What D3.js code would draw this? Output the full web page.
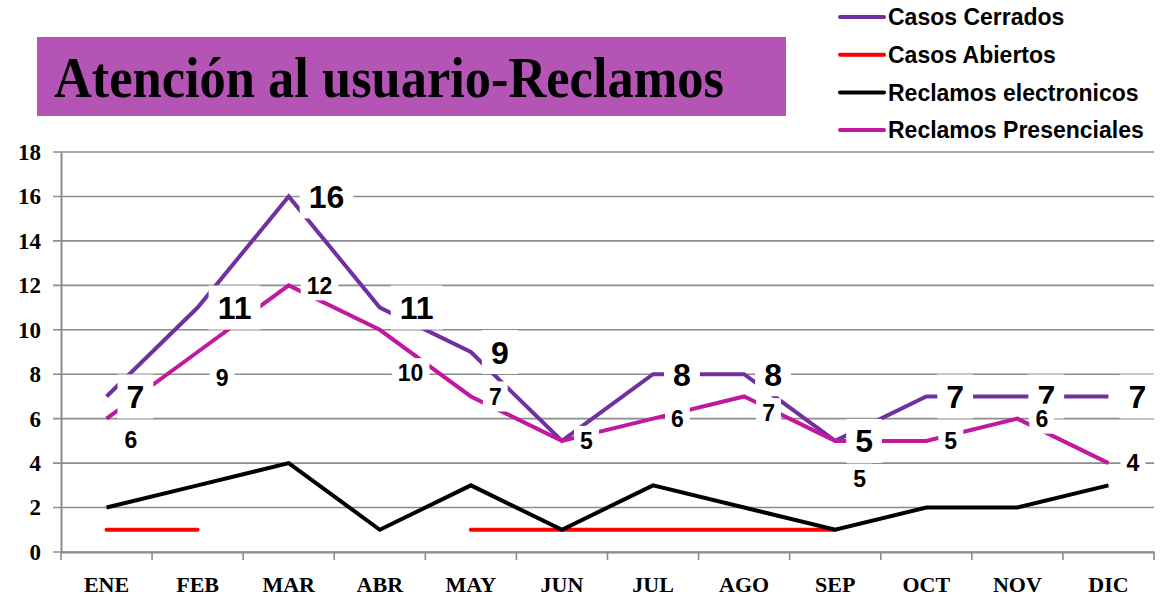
<!DOCTYPE html>
<html><head><meta charset="utf-8">
<script src="https://cdn.jsdelivr.net/npm/d3@7"></script>
<style>html,body{margin:0;padding:0;background:#fff;}svg{display:block;}</style>
</head><body>
<svg id="chart" width="1160" height="598"></svg>
<script>
const months = ["ENE","FEB","MAR","ABR","MAY","JUN","JUL","AGO","SEP","OCT","NOV","DIC"];
const casosCerrados = [7, 11, 16, 11, 9, 5, 8, 8, 5, 7, 7, 7];
const casosAbiertos = [1, 1, null, null, 1, 1, 1, 1, 1, null, null, null];
const reclamosElectronicos = [2, 3, 4, 1, 3, 1, 3, 2, 1, 2, 2, 3];
const reclamosPresenciales = [6, 9, 12, 10, 7, 5, 6, 7, 5, 5, 6, 4];
const yTicks = [0, 2, 4, 6, 8, 10, 12, 14, 16, 18];
const seriesNames = ["Casos Cerrados", "Casos Abiertos", "Reclamos electronicos", "Reclamos Presenciales"];
const titleText = "Atención al usuario-Reclamos";
// which data labels are shown (JUN label of Casos Cerrados is hidden in the original)
const cerradosLabelShown = [true,true,true,true,true,false,true,true,true,true,true,true];

// label nudges (in value units, downward) for Reclamos Presenciales labels
const presLabelShift = [0.95, 1.15, 0, 1.95, 0, 0, 0, 0.75, 1.7, 0, 0, 0];

const colors = ["#7030A0", "#FF0000", "#000000", "#C0189F"];
const svg = d3.select("#chart");

const x = d3.scaleBand().domain(months).range([61, 1154]);
const y = d3.scaleLinear().domain([0, 18]).range([552, 152]);
const cx = m => x(m) + x.bandwidth() / 2;

// title box
svg.append("rect").attr("x", 37).attr("y", 37).attr("width", 749).attr("height", 79).attr("fill", "#B455B6");
svg.append("text").attr("x", 54).attr("y", 97)
  .attr("font-family", "'Liberation Serif','Times New Roman',serif")
  .attr("font-weight", "bold").attr("font-size", 56)
  .attr("textLength", 670).attr("lengthAdjust", "spacingAndGlyphs")
  .attr("fill", "#000").text(titleText);

// gridlines
const grid = svg.append("g");
grid.selectAll("line").data(yTicks).join("line")
  .attr("x1", 53).attr("x2", 1154)
  .attr("y1", d => y(d)).attr("y2", d => y(d))
  .attr("stroke", "#8c8c8c").attr("stroke-width", 1.6);

// y axis
const yAxis = svg.append("g").attr("transform", "translate(61,0)")
  .call(d3.axisLeft(y).tickValues(yTicks).tickSize(0).tickPadding(20));
yAxis.select(".domain").attr("stroke", "#8c8c8c").attr("stroke-width", 2);
yAxis.selectAll("text").attr("font-family", "'Liberation Serif','Times New Roman',serif")
  .attr("font-weight", "bold").attr("font-size", 23).attr("fill", "#000");

// x axis
const xAxis = svg.append("g").attr("transform", "translate(0,552)")
  .call(d3.axisBottom(x).tickSize(0).tickPadding(24));
xAxis.select(".domain").attr("stroke", "#8c8c8c").attr("stroke-width", 2);
xAxis.selectAll("text").attr("font-family", "'Liberation Serif','Times New Roman',serif")
  .attr("font-weight", "bold").attr("font-size", 22).attr("fill", "#000");
// tick marks at band boundaries
const bounds = months.map(m => x(m)).concat([x.range()[1]]);
svg.append("g").selectAll("line").data(bounds).join("line")
  .attr("x1", d => d).attr("x2", d => d).attr("y1", 552).attr("y2", 560)
  .attr("stroke", "#8c8c8c").attr("stroke-width", 1.6);

// lines
const seriesData = [casosCerrados, casosAbiertos, reclamosElectronicos, reclamosPresenciales];
const line = d3.line().defined(d => d.v != null).x(d => cx(d.m)).y(d => y(d.v));
const linesG = svg.append("g");
seriesData.forEach((vals, i) => {
  const pts = vals.map((v, j) => ({m: months[j], v}));
  linesG.append("path").datum(pts).attr("d", line)
    .attr("fill", "none").attr("stroke", colors[i]).attr("stroke-width", 4)
    .attr("stroke-linejoin", "miter").attr("stroke-linecap", i === 1 ? "round" : "butt");
});

// data labels
function addLabels(vals, shown, shift, size, dxPx, padX, boxH) {
  const g = svg.append("g");
  vals.forEach((v, j) => {
    if (!shown[j]) return;
    const lg = g.append("g");
    const ty = y(v - shift[j]);
    const t = lg.append("text")
      .attr("x", cx(months[j]) + dxPx)
      .attr("y", ty)
      .attr("dy", "0.36em")
      .attr("font-family", "'Liberation Sans',Arial,sans-serif")
      .attr("font-weight", "bold").attr("font-size", size).attr("fill", "#000")
      .text(v);
    const bb = t.node().getBBox();
    lg.insert("rect", "text").attr("x", bb.x - padX).attr("y", ty - boxH / 2)
      .attr("width", bb.width + 2 * padX).attr("height", boxH).attr("fill", "#fff");
  });
}
addLabels(casosCerrados, cerradosLabelShown, casosCerrados.map(() => 0), 32, 20, 9, 44);
addLabels(reclamosPresenciales, reclamosPresenciales.map(() => true), presLabelShift, 23, 18, 6, 30);

// legend
const legend = svg.append("g");
seriesNames.forEach((name, i) => {
  const ly = 17 + i * 37.7;
  legend.append("line").attr("x1", 840).attr("x2", 884).attr("y1", ly).attr("y2", ly)
    .attr("stroke", colors[i]).attr("stroke-width", 4).attr("stroke-linecap", "round");
  legend.append("text").attr("x", 888).attr("y", ly).attr("dy", "0.36em")
    .attr("font-family", "'Liberation Sans',Arial,sans-serif")
    .attr("font-weight", "bold").attr("font-size", 23).attr("fill", "#000").text(name);
});
</script>
</body></html>
